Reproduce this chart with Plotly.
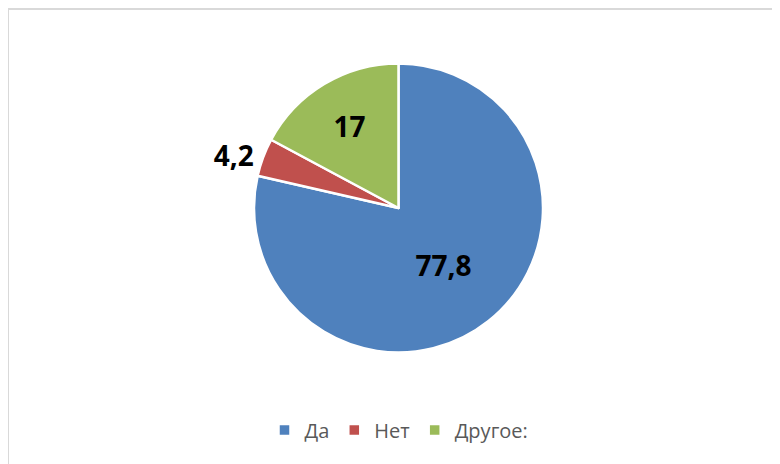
import plotly.graph_objects as go

labels = ["Да", "Нет", "Другое:"]
values = [77.8, 4.2, 17]
colors = ["#4F81BD", "#C0504D", "#9BBB59"]
text_positions = ["inside", "outside", "inside"]

W, H = 780, 464
OFF = 8  # page body margin
cx, cy, r = 398.5 - OFF, 208 - OFF, 144.5

fig = go.Figure(go.Pie(
    labels=labels,
    values=values,
    sort=False,
    direction="clockwise",
    rotation=0,
    marker=dict(colors=colors, line=dict(color="white", width=2.5)),
    texttemplate="%{value}",
    textposition=text_positions,
    insidetextorientation="horizontal",
    textfont=dict(family="Open Sans", size=28, color="black", weight="bold"),
    domain=dict(x=[(cx - r) / W, (cx + r) / W], y=[1 - (cy + r) / H, 1 - (cy - r) / H]),
    hoverinfo="label+value",
))

fig.update_layout(
    width=W, height=H,
    margin=dict(l=0, r=0, t=0, b=0),
    paper_bgcolor="white",
    separators=", ",
    showlegend=True,
    legend=dict(orientation="h", x=(399 - OFF) / W, xanchor="center", y=1 - (430 - OFF) / H, yanchor="middle",
                font=dict(family="Open Sans", size=20, color="#595959"),
                itemwidth=30, traceorder="normal"),
    shapes=[dict(type="rect", xref="paper", yref="paper",
                 x0=0, x1=1.05, y0=-0.05, y1=1 - 1 / H,
                 line=dict(color="#D9D9D9", width=2), fillcolor="rgba(0,0,0,0)")],
)

fig.write_html("out.html")
